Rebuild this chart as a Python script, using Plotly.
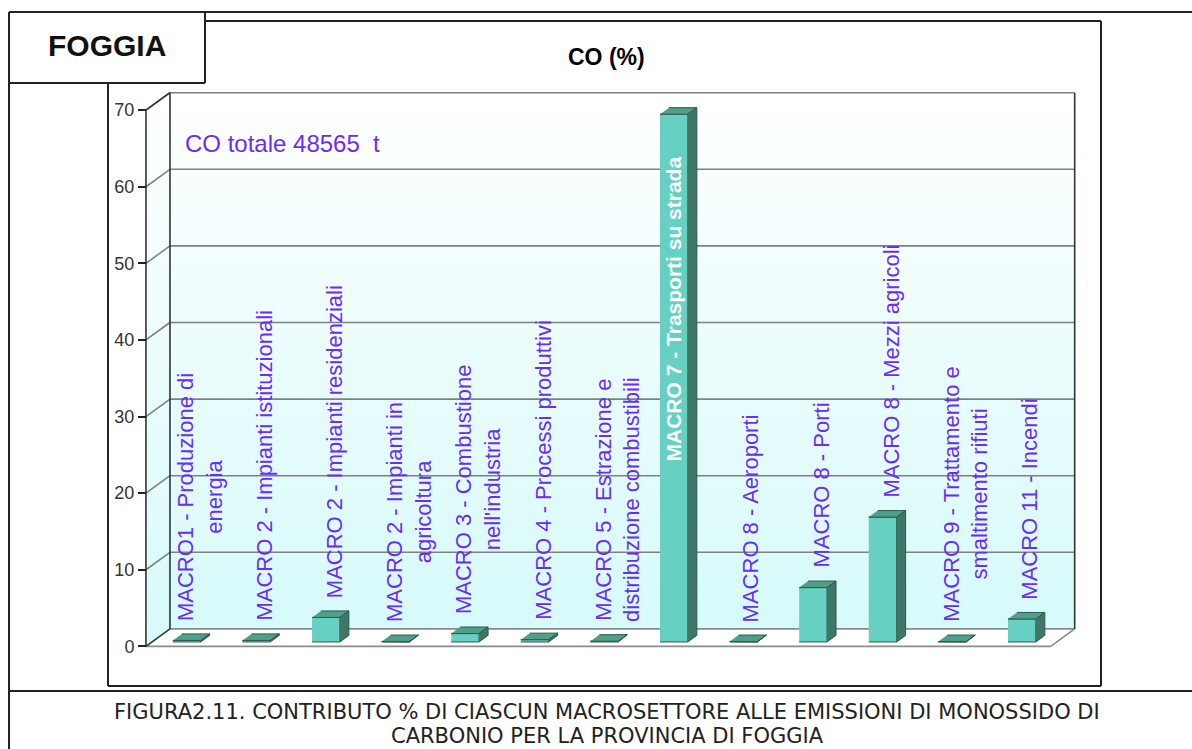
import plotly.graph_objects as go

# --- data -----------------------------------------------------------------
categories = [
    "MACRO1 - Produzione di<br>energia",
    "MACRO 2 - Impianti istituzionali",
    "MACRO 2 - Impianti residenziali",
    "MACRO 2 - Impianti in<br>agricoltura",
    "MACRO 3 - Combustione<br>nell'industria",
    "MACRO 4 - Processi produttivi",
    "MACRO 5 - Estrazione e<br>distribuzione combustibili",
    "MACRO 7 - Trasporti su strada",
    "MACRO 8 - Aeroporti",
    "MACRO 8 - Porti",
    "MACRO 8 - Mezzi agricoli",
    "MACRO 9 - Trattamento e<br>smaltimento rifiuti",
    "MACRO 11 - Incendi",
]
co_percent = [0.2, 0.2, 3.2, 0.05, 1.1, 0.3, 0.1, 68.9, 0.05, 7.1, 16.3, 0.05, 3.0]
y_ticks = [0, 10, 20, 30, 40, 50, 60, 70]
total_text = "CO totale 48565  t"
chart_title = "CO (%)"
province = "FOGGIA"
caption_lines = ["FIGURA2.11. CONTRIBUTO % DI CIASCUN MACROSETTORE ALLE EMISSIONI DI MONOSSIDO DI",
                 "CARBONIO PER LA PROVINCIA DI FOGGIA"]

# --- geometry --------------------------------------------------------------
W, H = 1192, 749
L, T, PW, PH = 139, 91, 943, 563          # plot area in pixels
X_RANGE = [-0.6, 12.95]
Y_RANGE = [-1.0, 72.5]
DX, DY = 0.345, 2.28                       # depth offset of the back wall
Z0, Z1 = 0.25, 0.625                       # depth span of each bar
BAR_W = 0.40
Y_MAX = 70
n = len(categories)
x0, x1 = -0.5, n - 0.5


def px(x):
    return (x - L) / PW


def py(y):
    return 1 - (y - T) / PH


FRONT = "#66d0c2"
TOP = "#4f9f8b"
SIDE = "#3f7764"
EDGE = "#2c5a4c"
GRID = "#808080"
DARK = "#333333"
LABEL = "#6a2cf6"

fig = go.Figure()


def polygon(xs, ys, **kw):
    fig.add_trace(go.Scatter(x=xs, y=ys, mode="lines", fill="toself",
                             hoverinfo="skip", showlegend=False, **kw))


def lines(segs, color, width):
    xs, ys = [], []
    for (a, b), (c, d) in segs:
        xs += [a, c, None]
        ys += [b, d, None]
    fig.add_trace(go.Scatter(x=xs, y=ys, mode="lines", hoverinfo="skip", showlegend=False,
                             line=dict(color=color, width=width)))


wall_grad = dict(type="vertical", colorscale=[[0, "#d6fafa"], [1, "#ffffff"]])

# floor
polygon([x0, x1, x1 + DX, x0 + DX], [0, 0, DY, DY],
        fillcolor="#ffffff", line=dict(width=0))
# side wall
polygon([x0, x0 + DX, x0 + DX, x0], [0, DY, Y_MAX + DY, Y_MAX],
        fillgradient=wall_grad, line=dict(width=0))
# back wall
polygon([x0 + DX, x1 + DX, x1 + DX, x0 + DX], [DY, DY, Y_MAX + DY, Y_MAX + DY],
        fillgradient=wall_grad, line=dict(width=0))

# gridlines on the walls
grid = []
for v in y_ticks[1:]:
    grid.append(((x0 + DX, v + DY), (x1 + DX, v + DY)))
    grid.append(((x0, v), (x0 + DX, v + DY)))
lines(grid, GRID, 1.6)

# floor edges
lines([((x0, 0), (x1, 0)), ((x0 + DX, DY), (x1 + DX, DY)),
       ((x1, 0), (x1 + DX, DY))], "#8a8a8a", 1.6)

# wall edges and axis
lines([((x0, 0), (x0, Y_MAX)), ((x0, 0), (x0 + DX, DY)),
       ((x0, Y_MAX), (x0 + DX, Y_MAX + DY)),
       ((x0 + DX, DY), (x0 + DX, Y_MAX + DY)),
       ((x1 + DX, DY), (x1 + DX, Y_MAX + DY))], DARK, 1.6)

# 3D bars: front, top and side faces
ddx, ddy = (Z1 - Z0) * DX, (Z1 - Z0) * DY
for i, v in enumerate(co_percent):
    xl = i + Z0 * DX - BAR_W / 2
    xr = xl + BAR_W
    base = Z0 * DY
    top = base + v
    polygon([xl, xr, xr, xl], [base, base, top, top],
            fillcolor=FRONT, line=dict(color=EDGE, width=1))
    polygon([xl, xr, xr + ddx, xl + ddx], [top, top, top + ddy, top + ddy],
            fillcolor=TOP, line=dict(color=EDGE, width=1))
    polygon([xr, xr + ddx, xr + ddx, xr], [base, base + ddy, top + ddy, top],
            fillcolor=SIDE, line=dict(color=EDGE, width=1))

# category labels above the bars
annotations = []
big = max(range(n), key=lambda k: co_percent[k])
for i, (lab, v) in enumerate(zip(categories, co_percent)):
    if i == big:
        annotations.append(dict(
            x=i + Z0 * DX, y=v + Z0 * DY - 5.2, xref="x", yref="y",
            text="<b>" + lab + "</b>", textangle=-90, showarrow=False,
            xanchor="center", yanchor="top",
            font=dict(family="Liberation Sans, Arial", size=21, color="#ffffff")))
    else:
        two_lines = "<br>" in lab
        annotations.append(dict(
            x=i + (0.28 if two_lines else 0.2), y=v + Z0 * DY + 2.3, xref="x", yref="y",
            text=lab, textangle=-90, showarrow=False, align="center",
            xanchor="center", yanchor="bottom",
            font=dict(family="Liberation Sans, Arial", size=22, color=LABEL)))

annotations.append(dict(
    x=x0 + DX + 0.19, y=65.7, xref="x", yref="y", text=total_text, showarrow=False,
    xanchor="left", yanchor="middle",
    font=dict(family="Liberation Sans, Arial", size=24, color=LABEL)))

annotations.append(dict(
    x=px(606), y=py(57), xref="paper", yref="paper", text="<b>" + chart_title + "</b>",
    showarrow=False, xanchor="center", yanchor="middle",
    font=dict(family="Liberation Sans, Arial", size=23, color="#000000")))

annotations.append(dict(
    x=px(107), y=py(45), xref="paper", yref="paper", text="<b>" + province + "</b>",
    showarrow=False, xanchor="center", yanchor="middle",
    font=dict(family="Liberation Sans, Arial", size=30, color="#111111")))

# figure caption, one annotation per line
for line_text, y_pix in zip(caption_lines, [712, 736]):
    annotations.append(dict(
        x=px(607), y=py(y_pix), xref="paper", yref="paper", text=line_text,
        showarrow=False, xanchor="center", yanchor="middle", align="center",
        font=dict(family="DejaVu Sans, Verdana, sans-serif", size=21, color="#222222")))

# page frame
frame = []


def seg(xa, ya, xb, yb, w=2):
    frame.append(dict(type="line", xref="paper", yref="paper",
                      x0=px(xa), y0=py(ya), x1=px(xb), y1=py(yb),
                      line=dict(color="#222222", width=w)))


seg(9, 12, 1192, 12)
seg(9, 12, 9, 749)
seg(205, 12, 205, 83)
seg(9, 83, 205, 83)
seg(205, 21, 1101, 21)
seg(1101, 21, 1101, 686)
seg(108, 686, 1101, 686)
seg(108, 83, 108, 686)
seg(9, 691, 1192, 691)

fig.update_layout(
    width=W, height=H,
    margin=dict(l=L, r=W - L - PW, t=T, b=H - T - PH, pad=0),
    paper_bgcolor="#ffffff", plot_bgcolor="rgba(0,0,0,0)",
    showlegend=False,
    annotations=annotations,
    shapes=frame,
    xaxis=dict(range=X_RANGE, visible=False, fixedrange=True),
    yaxis=dict(range=Y_RANGE, tickvals=y_ticks, showgrid=False, zeroline=False,
               showline=False, ticks="outside", ticklen=8, tickwidth=1.5,
               tickcolor="#222222", anchor="free", position=px(146),
               tickfont=dict(family="Liberation Sans, Arial", size=18, color="#333333"),
               fixedrange=True),
)

fig.write_html("out.html")
